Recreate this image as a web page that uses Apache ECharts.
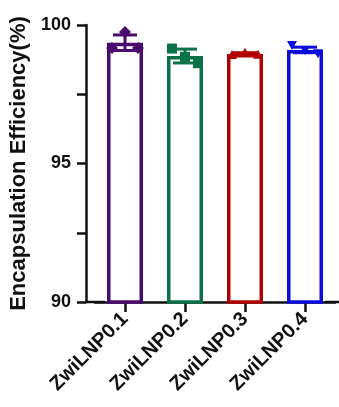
<!DOCTYPE html>
<html>
<head>
<meta charset="utf-8">
<script src="https://cdn.jsdelivr.net/npm/echarts@6/dist/echarts.min.js"></script>
<style>
  html, body { margin: 0; padding: 0; background: #fff; }
  #chart { width: 339px; height: 407px; }
</style>
</head>
<body>
<div id="chart"></div>
<script>
// groups and values
let groups = ['ZwiLNP0.1', 'ZwiLNP0.2', 'ZwiLNP0.3', 'ZwiLNP0.4'];
let means = [99.36, 98.88, 98.95, 99.1];
let errs = [0.28, 0.25, 0.05, 0.1];
// individual replicates (left, middle, right)
let points = [
  [99.17, 99.75, 99.17],
  [99.15, 98.85, 98.62],
  [98.92, 99.0, 98.93],
  [99.28, 99.1, 98.98]
];

let colors = ['#4b0a6e', '#0b7148', '#b10000', '#0c0cdb'];
let jitter = [-13, 0, 13]; // px offsets of the replicate dots
let FONT = '"Liberation Sans", Arial, sans-serif';
let AXIS = '#111';

// marker outlines: diamond, square, up triangle, down triangle
function marker(i, x, y, s) {
  let h = s / 2;
  if (i === 1) return {type: 'rect', shape: {x: x - h, y: y - h, width: s, height: s}};
  let pts;
  if (i === 0) pts = [[x, y - h], [x + h, y], [x, y + h], [x - h, y]];
  else if (i === 2) pts = [[x, y - h], [x + h, y + h * 0.8], [x - h, y + h * 0.8]];
  else pts = [[x - h, y - h * 0.8], [x + h, y - h * 0.8], [x, y + h]];
  return {type: 'polygon', shape: {points: pts}};
}

function build_series() {
  let series = [];

  // open bars
  series.push({
    type: 'bar',
    barWidth: 36,
    data: means.map(function (m, i) {
      return {
        value: m,
        itemStyle: {color: '#fff', borderColor: colors[i], borderWidth: 3.5}
      };
    }),
    z: 2
  });

  // error bars (mean +/- err)
  series.push({
    type: 'custom',
    data: means.map(function (m, i) { return [i, m, errs[i]]; }),
    renderItem: function (params, api) {
      let i = params.dataIndex;
      let m = api.value(1);
      let e = api.value(2);
      let lo = api.coord([i, m - e]);
      let hi = api.coord([i, m + e]);
      let hw = 12;
      let st = {stroke: colors[i], lineWidth: 3};
      return {
        type: 'group',
        children: [
          {type: 'line', shape: {x1: lo[0], y1: lo[1], x2: hi[0], y2: hi[1]}, style: st},
          {type: 'line', shape: {x1: hi[0] - hw, y1: hi[1], x2: hi[0] + hw, y2: hi[1]}, style: st},
          {type: 'line', shape: {x1: lo[0] - hw, y1: lo[1], x2: lo[0] + hw, y2: lo[1]}, style: st}
        ]
      };
    },
    z: 3
  });

  // replicate points, spread sideways inside each bar
  points.forEach(function (pts, i) {
    series.push({
      type: 'custom',
      data: pts.map(function (v, k) { return [i, v, k]; }),
      renderItem: function (params, api) {
        let p = api.coord([api.value(0), api.value(1)]);
        let m = marker(i, p[0] + jitter[api.value(2)], p[1], i === 0 ? 12 : 10);
        m.style = {fill: colors[i]};
        return m;
      },
      z: 4
    });
  });
  return series;
}

let chart = echarts.init(document.getElementById('chart'));
chart.setOption({
  animation: false,
  grid: {left: 95, right: 4, top: 25, bottom: 105, containLabel: false},
  xAxis: {
    type: 'category',
    data: groups,
    boundaryGap: true,
    axisLine: {
      show: true,
      // thin bar ends stretch the line back to the y axis and out to the edge
      symbol: ['path://M0 0h1v8h-1z', 'path://M0 0h1v8h-1z'],
      symbolSize: [2.5, 20],
      symbolOffset: [0, 0],
      lineStyle: {color: AXIS, width: 2.5}
    },
    axisTick: {show: true, alignWithLabel: true, length: 10, lineStyle: {color: AXIS, width: 2.5}},
    axisLabel: {
      interval: 0,
      rotate: 45,
      margin: 14,
      color: AXIS,
      fontFamily: FONT,
      fontWeight: 'bold',
      fontSize: 20
    }
  },
  yAxis: {
    type: 'value',
    min: 90,
    max: 100,
    interval: 2.5,
    offset: 9,
    name: 'Encapsulation Efficiency(%)',
    nameLocation: 'middle',
    nameGap: 56,
    nameTextStyle: {color: AXIS, fontFamily: FONT, fontWeight: 'bold', fontSize: 22},
    splitLine: {show: false},
    axisLine: {show: true, lineStyle: {color: AXIS, width: 2.5}},
    axisTick: {show: true, length: 9, lineStyle: {color: AXIS, width: 2.5}},
    axisLabel: {
      formatter: function (v) { return v % 5 === 0 ? v : ''; },
      margin: 15,
      color: AXIS,
      fontFamily: FONT,
      fontWeight: 'bold',
      fontSize: 18
    }
  },
  series: build_series()
});
</script>
</body>
</html>
